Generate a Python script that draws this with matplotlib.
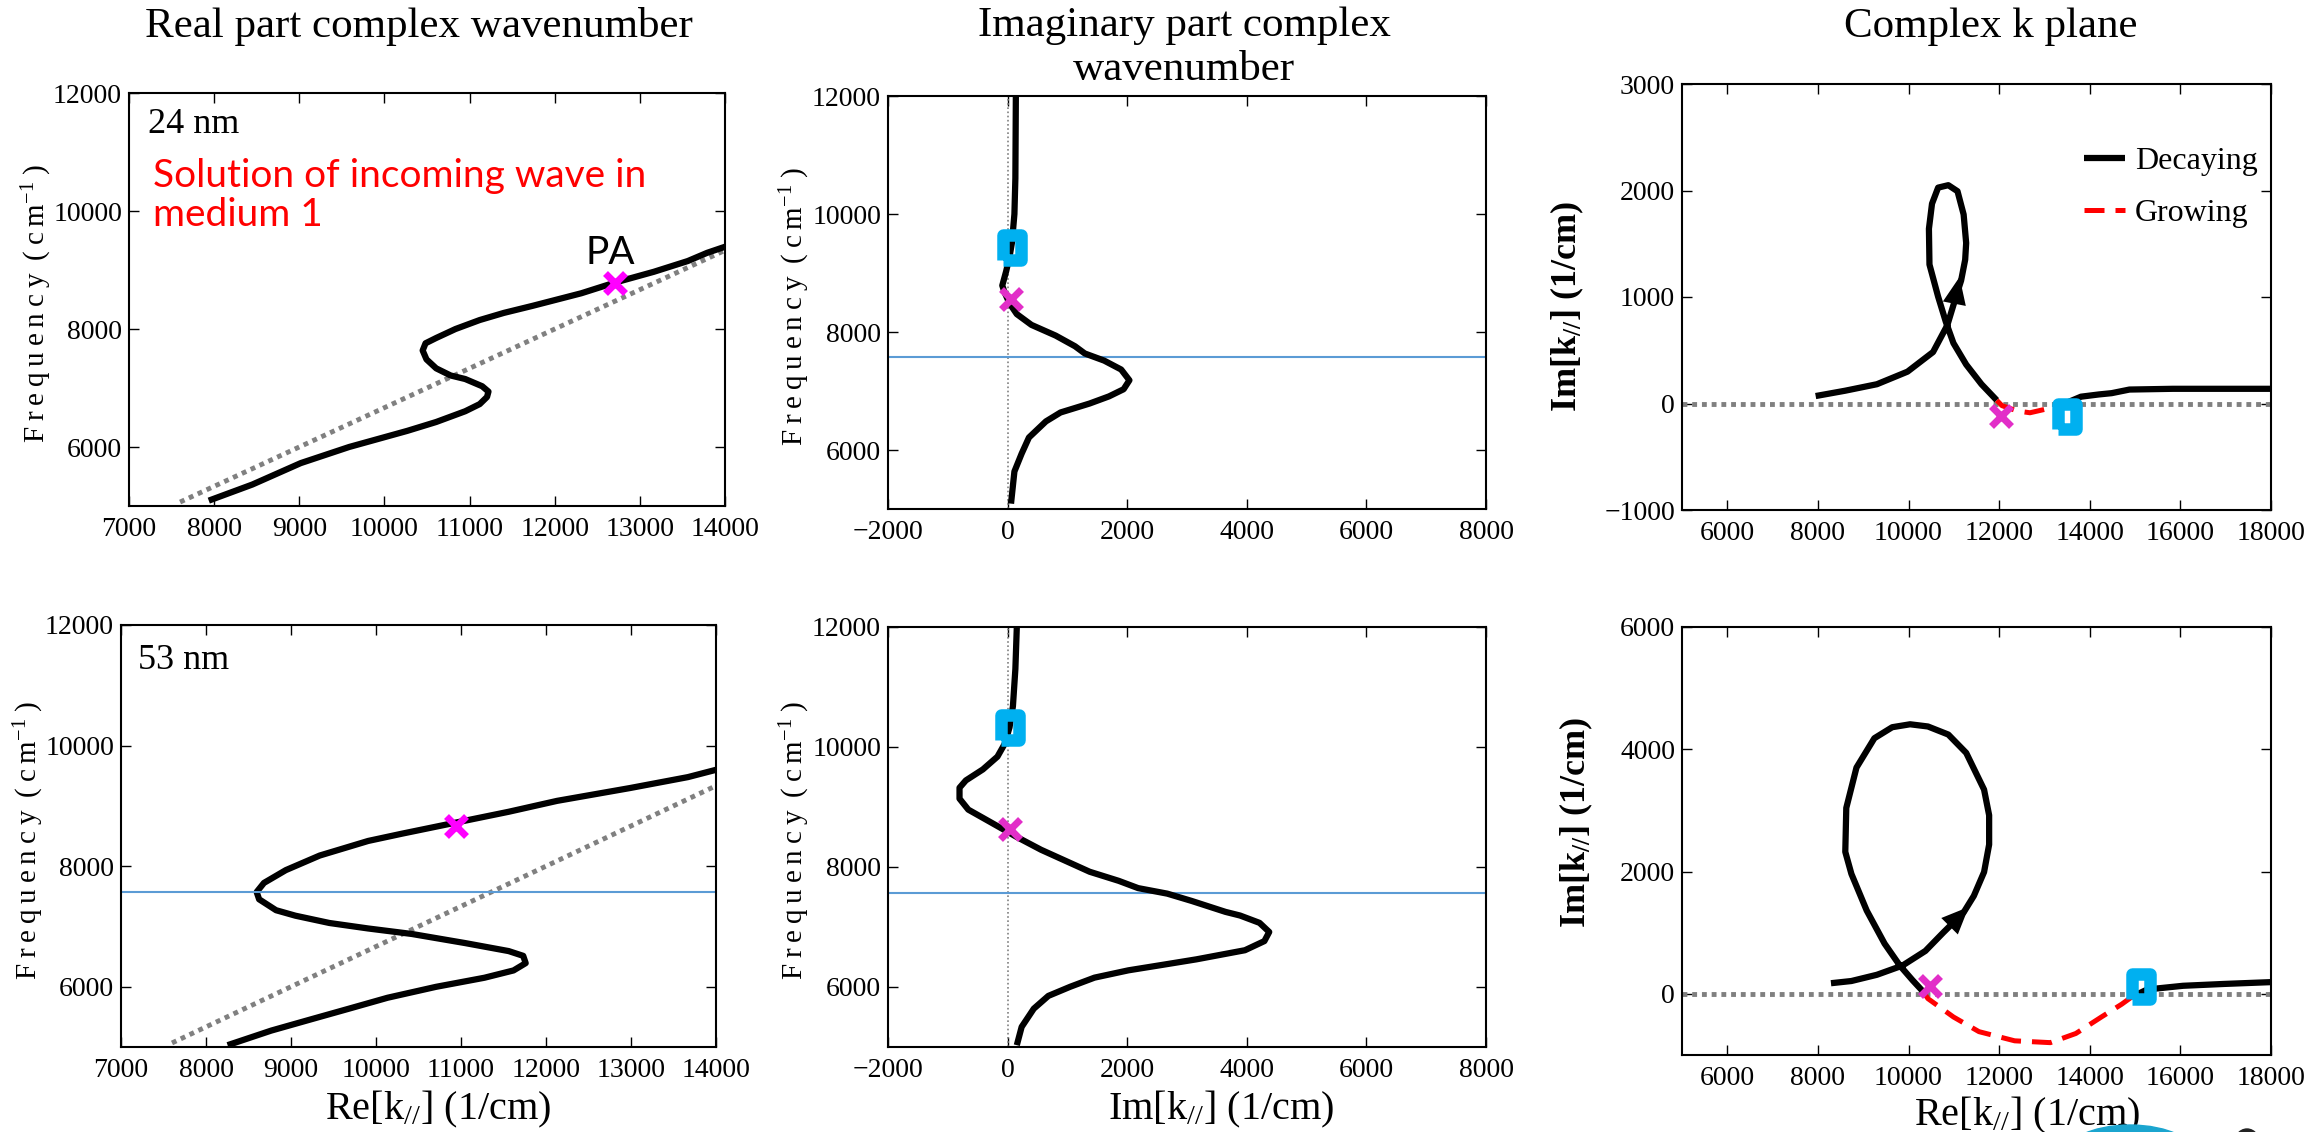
import numpy as np
import matplotlib
matplotlib.use("Agg")
import matplotlib.pyplot as plt
from matplotlib.patches import Ellipse
from matplotlib.markers import MarkerStyle

plt.rcParams['font.family'] = ['Liberation Serif', 'DejaVu Serif']
plt.rcParams['mathtext.default'] = 'regular'

# --- 24 nm, real part of k vs frequency
a_re = [7937, 8449, 9017, 9585, 10267, 10608, 10949, 11119, 11205, 11222, 11148, 10949, 10778,
        10608, 10494, 10449, 10483, 10608, 10835, 11119, 11403, 11744, 12313, 12710, 13165, 13563, 13790, 14000]
a_freq = [5091, 5364, 5727, 6000, 6273, 6424, 6606, 6727, 6848, 6939, 7030, 7152, 7212,
          7333, 7485, 7636, 7758, 7848, 8000, 8152, 8273, 8394, 8606, 8788, 8970, 9152, 9291, 9394]

# --- 53 nm, real part
d_re = [8254, 8767, 9223, 9680, 10136, 10706, 11276, 11618, 11761, 11732, 11561, 11048, 10421, 9908,
        9452, 9052, 8824, 8625, 8596, 8682, 8939, 9338, 9908, 10307, 10934, 11561, 12131, 12986, 13670, 14000]
d_freq = [5030, 5272, 5454, 5635, 5817, 5998, 6149, 6270, 6391, 6512, 6591, 6724, 6875, 6966,
          7057, 7178, 7269, 7450, 7571, 7722, 7934, 8176, 8418, 8539, 8721, 8902, 9083, 9295, 9477, 9598]

# light line (n = 1.5)
light_k = [7600, 14000]
light_freq = [5067, 9333]

# --- 24 nm, imaginary part
b_im = [57, 114, 235, 357, 641, 885, 1372, 1696, 1940, 2037, 1899, 1615, 1291, 1128, 804, 398,
        154, 32, -49, -89, -24, 32, 73, 114, 130, 138]
b_freq = [5091, 5636, 5939, 6212, 6485, 6636, 6788, 6909, 7030, 7182, 7364, 7515, 7636, 7758, 7939, 8121,
          8303, 8485, 8667, 8788, 9030, 9273, 9515, 10000, 10606, 12000]

# --- 53 nm, imaginary part
e_im = [154, 235, 438, 682, 1047, 1453, 2021, 2589, 3157, 3969, 4294, 4375, 4213, 3888, 3644, 3076,
        2670, 2183, 1859, 1372, 966, 560, 154, -8, -333, -657, -804, -804, -698, -414, -170, -49,
        32, 89, 130, 154]
e_freq = [5030, 5335, 5639, 5852, 6004, 6156, 6278, 6369, 6461, 6613, 6765, 6917, 7069, 7191, 7252, 7435,
          7556, 7648, 7769, 7921, 8104, 8287, 8500, 8591, 8774, 8956, 9139, 9321, 9443, 9626, 9839, 10052,
          10326, 10679, 11300, 12000]

resonance_freq = 7570

# --- complex k plane, 24 nm
c_dec1_re = [7950, 8600, 9302, 9977, 10541, 10856, 11047, 11160, 11250, 11272, 11216, 11081, 10878,
             10653, 10518, 10450, 10462, 10653, 10822, 10991, 11272, 11610, 11948]
c_dec1_im = [70, 120, 181, 299, 483, 735, 1003, 1154, 1350, 1507, 1775, 1993, 2050,
             2027, 1876, 1641, 1305, 1003, 768, 567, 366, 181, 30]
c_grow_re = [11948, 12061, 12399, 12680, 13018, 13187, 13450]
c_grow_im = [30, -20, -70, -87, -54, -20, 0]
c_dec2_re = [13450, 13806, 14200, 14482, 14876, 15833, 18000]
c_dec2_im = [0, 64, 85, 97, 131, 138, 138]

# --- complex k plane, 53 nm
f_dec1_re = [8288, 8739, 9302, 9865, 10372, 10766, 11216, 11441, 11667, 11779, 11779, 11667, 11273, 10878,
             10428, 10034, 9640, 9246, 8851, 8626, 8604, 8739, 9077, 9471, 9809, 10090, 10315]
f_dec1_im = [174, 210, 312, 462, 702, 1002, 1332, 1602, 1992, 2442, 2921, 3341, 3941, 4241,
             4373, 4409, 4361, 4181, 3701, 3041, 2322, 1962, 1362, 822, 462, 222, 42]
f_grow_re = [10315, 10428, 10991, 11554, 12342, 13130, 13693, 14257, 14707, 14932]
f_grow_im = [42, -78, -378, -618, -768, -798, -648, -378, -168, -48]
f_dec2_re = [14932, 15270, 16059, 16959, 18000]
f_dec2_im = [-48, 72, 132, 162, 192]

# special points: crossing "x" and square marker
a_cross = (12710, 8788)
d_cross = (10945, 8672)
b_cross, b_square = (57, 8558), (73, 9442)
e_cross, e_square = (32, 8634), (32, 10338)
c_cross, c_square = (12040, -120), (13500, -120)
f_cross, f_square = (10484, 132), (15140, 125)
c_arrow = ((11040, 1000), (11126, 1188))
f_arrow = ((10766, 1002), (11329, 1422))

W, H = 2320, 1132
fig = plt.figure(figsize=(W / 100, H / 100), dpi=100)


def box(l, r, t, b):
    return [l / W, 1 - b / H, (r - l) / W, (b - t) / H]


ax_a = fig.add_axes(box(129, 725, 93, 506))
ax_b = fig.add_axes(box(888, 1486, 96, 509))
ax_c = fig.add_axes(box(1682, 2271, 84, 510))
ax_d = fig.add_axes(box(121, 716, 625, 1047))
ax_e = fig.add_axes(box(888, 1486, 627, 1047))
ax_f = fig.add_axes(box(1682, 2271, 627, 1055))

CURVE = dict(color='black', lw=4.5, solid_capstyle='butt')
DOT = dict(color='#808080', lw=3.5, linestyle=(0, (1, 1)), dash_capstyle='butt')
CYAN = '#00B0F0'
sq_marker = MarkerStyle([(-0.71, -1), (0.71, -1), (0.71, 1), (-0.71, 1), (-0.71, -1)], joinstyle='miter')
x_marker = MarkerStyle('x', capstyle='butt')
ts = '\u2009'
freq_label = ts.join('Frequency') + ' ' + ts + '(' + ts + 'c' + ts + 'm' + '$^{-1}$' + ts + ')'


def style(ax):
    ax.tick_params(direction='in', length=7, width=1, top=True, right=True,
                   labelsize=20, pad=5)
    ax.tick_params(axis='x', pad=8)
    for s in ax.spines.values():
        s.set_linewidth(1.5)


def cross(ax, pt, color):
    ax.plot(pt[0], pt[1], marker=x_marker, ms=14, mew=5, color=color, zorder=5)


def square(ax, pt):
    ax.plot(pt[0], pt[1], marker=sq_marker, ms=18, mew=9, mfc='none', mec=CYAN, zorder=6)


# real-part panels
for ax, re, fr, pt in [(ax_a, a_re, a_freq, a_cross), (ax_d, d_re, d_freq, d_cross)]:
    ax.plot(light_k, light_freq, **DOT)
    ax.plot(re, fr, **CURVE)
    cross(ax, pt, '#FF00FF')
    ax.set_xlim(7000, 14000)
    ax.set_ylim(5000, 12000)
    ax.set_xticks(np.arange(7000, 14001, 1000))
    ax.set_yticks([6000, 8000, 10000, 12000])
    ax.set_ylabel(freq_label, fontsize=21)
    style(ax)
ax_a.yaxis.set_label_coords(-0.125, 0.49)
ax_d.yaxis.set_label_coords(-0.126, 0.49)
ax_d.axhline(resonance_freq, color='#5B9BD5', lw=1.5)

ax_a.text(7223, 11458, '24 nm', fontsize=26, va='center')
ax_d.text(7200, 11403, '53 nm', fontsize=26, va='center')
ax_a.text(7282, 10900, 'Solution of incoming wave in\nmedium 1', color='red', fontsize=28,
          family='Lato', va='top', linespacing=1.12)
ax_a.text(12649, 9290, 'PA', fontsize=28, family='Lato', ha='center', va='center')

# imaginary-part panels
for ax, im, fr, cp, sp in [(ax_b, b_im, b_freq, b_cross, b_square),
                           (ax_e, e_im, e_freq, e_cross, e_square)]:
    ax.axvline(0, color='#808080', lw=1.2, linestyle=(0, (1, 1.5)))
    ax.axhline(resonance_freq, color='#5B9BD5', lw=1.5)
    ax.plot(im, fr, **CURVE)
    cross(ax, cp, '#E22EC8')
    square(ax, sp)
    ax.set_xlim(-2000, 8000)
    ax.set_ylim(5000, 12000)
    ax.set_xticks(np.arange(-2000, 8001, 2000))
    ax.set_yticks([6000, 8000, 10000, 12000])
    ax.set_ylabel(freq_label, fontsize=21)
    ax.yaxis.set_label_coords(-0.127, 0.49)
    style(ax)

# complex k plane panels
GROW = dict(color='red', lw=3.6, linestyle=(0, (4, 2.2)))
for ax, segs, cp, sp, arr in [
        (ax_c, (c_dec1_re, c_dec1_im, c_grow_re, c_grow_im, c_dec2_re, c_dec2_im), c_cross, c_square, c_arrow),
        (ax_f, (f_dec1_re, f_dec1_im, f_grow_re, f_grow_im, f_dec2_re, f_dec2_im), f_cross, f_square, f_arrow)]:
    ax.axhline(0, **DOT)
    l1, = ax.plot(segs[0], segs[1], label='Decaying', **CURVE)
    l2, = ax.plot(segs[2], segs[3], label='Growing', **GROW)
    ax.plot(segs[4], segs[5], **CURVE)
    ax.annotate('', xy=arr[1], xytext=arr[0],
                arrowprops=dict(arrowstyle='-|>,head_length=0.7,head_width=0.3', color='black',
                                lw=0, mutation_scale=28, shrinkA=0, shrinkB=0))
    cross(ax, cp, '#E22EC8')
    square(ax, sp)
    ax.set_xlim(5000, 18000)
    ax.set_xticks(np.arange(6000, 18001, 2000))
    ax.set_ylabel('Im[k$_{//}$] (1/cm)', fontsize=26, fontweight='bold')
    style(ax)
    if ax is ax_c:
        ax.legend(handles=[l1, l2], loc='upper left', bbox_to_anchor=(0.655, 0.89), frameon=False,
                  fontsize=23, handlelength=1.3, handletextpad=0.3, labelspacing=0.7, borderpad=0)

ax_c.set_ylim(-1000, 3000)
ax_c.set_yticks(np.arange(-1000, 3001, 1000))
ax_c.yaxis.set_label_coords(-0.163, 0.477)
ax_f.set_ylim(-1000, 6000)
ax_f.set_yticks([0, 2000, 4000, 6000])
ax_f.yaxis.set_label_coords(-0.148, 0.544)

# bottom x labels
ax_d.set_xlabel('Re[k$_{//}$] (1/cm)', fontsize=29)
ax_d.xaxis.set_label_coords(0.533, -0.1)
ax_e.set_xlabel('Im[k$_{//}$] (1/cm)', fontsize=29)
ax_e.xaxis.set_label_coords(0.557, -0.1)
ax_f.set_xlabel('Re[k$_{//}$] (1/cm)', fontsize=29)
ax_f.xaxis.set_label_coords(0.586, -0.092)

# column titles
fig.text(419 / W, 1 - 27 / H, 'Real part complex wavenumber', fontsize=31, ha='center', va='center')
fig.text(1184 / W, 1 - 48 / H, 'Imaginary part complex\nwavenumber', fontsize=31, ha='center',
         va='center', linespacing=1.18)
fig.text(1991 / W, 1 - 27 / H, 'Complex k plane', fontsize=31, ha='center', va='center')

# slide remnants at the bottom edge
fig.patches.append(Ellipse((2130 / W, 1 - 1160 / H), 140 / W, 70 / H, transform=fig.transFigure,
                           color='#1BA5CF', figure=fig))
fig.patches.append(Ellipse((2247 / W, 1 - 1147 / H), 28 / W, 36 / H, transform=fig.transFigure,
                           color='#222222', figure=fig))

fig.savefig('out.png', dpi=100)
